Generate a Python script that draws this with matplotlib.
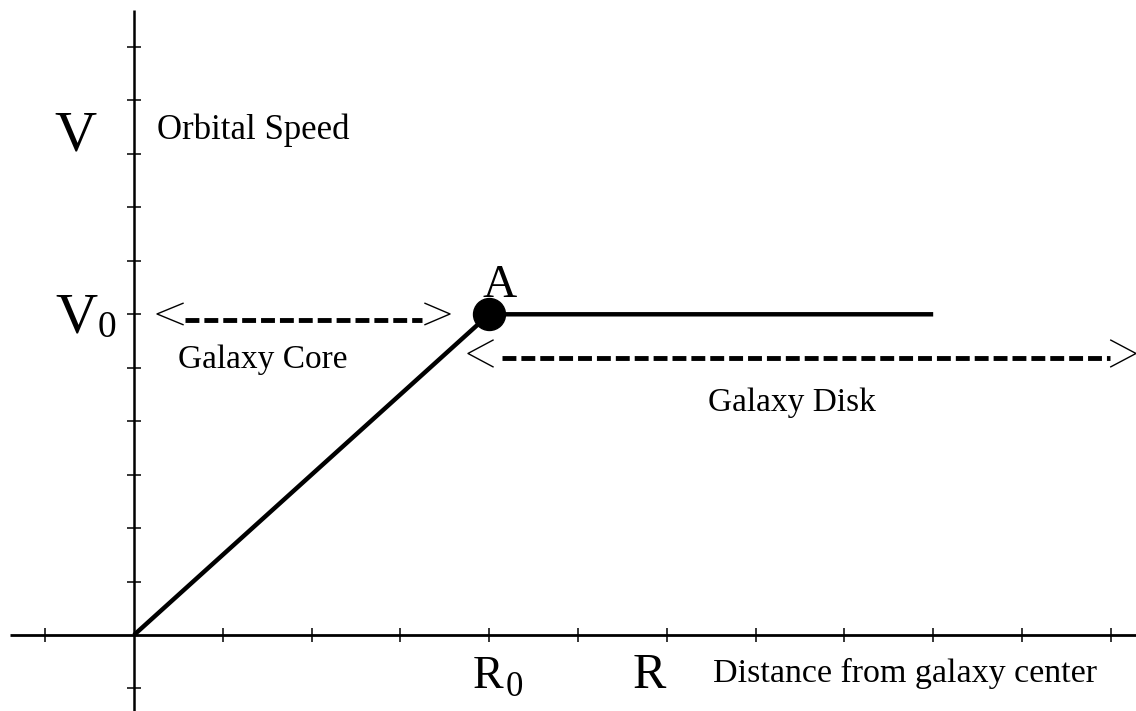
import matplotlib
matplotlib.use("Agg")
import matplotlib.pyplot as plt

plt.rcParams['font.family'] = ['Liberation Serif', 'DejaVu Serif']
plt.rcParams['lines.scale_dashes'] = False

# rotation curve (in tick units)
r_curve = [0, 4, 9]
v_curve = [0, 6, 6]
point_a = (4, 6)

# tick marks
x_ticks = [-1, 1, 2, 3, 4, 5, 6, 7, 8, 9, 10, 11]
y_ticks = [-1, 1, 2, 3, 4, 5, 6, 7, 8, 9, 10, 11]

# dashed ranges
core_range = [0.574, 3.243]
core_y = 5.893
disk_range = [4.144, 10.991]
disk_y = 5.182

fig = plt.figure(figsize=(11.36, 7.11), dpi=100)
ax = fig.add_axes([0, 0, 1, 1])
ax.set_xlim(-1.509, 11.284)
ax.set_ylim(-1.422, 11.880)
ax.axis('off')

# axes
ax.plot([-1.396, 11.3], [0, 0], color='black', lw=2.0, solid_capstyle='butt')
ax.plot([0, 0], [-1.43, 11.69], color='black', lw=1.8, solid_capstyle='butt')
ax.vlines(x_ticks, -0.14, 0.14, color='black', lw=1.1)
ax.hlines(y_ticks, -0.075, 0.075, color='black', lw=1.1)

# curve
ax.plot(r_curve, v_curve, color='black', lw=3.2, solid_capstyle='butt')
ax.plot(*point_a, 'o', color='black', markersize=23)

# core arrow
ax.plot(core_range, [core_y, core_y], color='black', lw=3.5, dashes=(10, 3.6),
        dash_capstyle='butt')
ax.plot([0.552, 0.259, 0.552], [6.006 + 0.2, 6.006, 6.006 - 0.2], color='black', lw=1.0)
ax.plot([3.277, 3.559, 3.277], [6.006 + 0.2, 6.006, 6.006 - 0.2], color='black', lw=1.0)

# disk arrow
ax.plot(disk_range, [disk_y, disk_y], color='black', lw=3.5, dashes=(10, 3.6),
        dash_capstyle='butt')
ax.plot([4.043, 3.761, 4.043], [5.267 + 0.25, 5.267, 5.267 - 0.25], color='black', lw=1.0)
ax.plot([11.0, 11.284, 11.0], [5.267 + 0.25, 5.267, 5.267 - 0.25], color='black', lw=1.0)

# labels
kw = dict(ha='left', va='baseline', color='black')
ax.text(-0.9, 9.07, 'V', fontsize=42, **kw)
ax.text(0.26, 9.28, 'Orbital Speed', fontsize=25, **kw)
ax.text(-0.88, 5.65, 'V', fontsize=42, **kw)
ax.text(-0.405, 5.575, '0', fontsize=27, **kw)
ax.text(0.495, 4.995, 'Galaxy Core', fontsize=24, **kw)
ax.text(6.464, 4.191, 'Galaxy Disk', fontsize=24, **kw)
ax.text(3.93, 6.324, 'A', fontsize=34, **kw)
ax.text(3.818, -0.99, 'R', fontsize=33, **kw)
ax.text(4.189, -1.141, '0', fontsize=25, **kw)
ax.text(5.619, -0.99, 'R', fontsize=36, **kw)
ax.text(6.52, -0.879, 'Distance from galaxy center', fontsize=24.5, **kw)

fig.savefig('out.png', dpi=100, facecolor='white')
